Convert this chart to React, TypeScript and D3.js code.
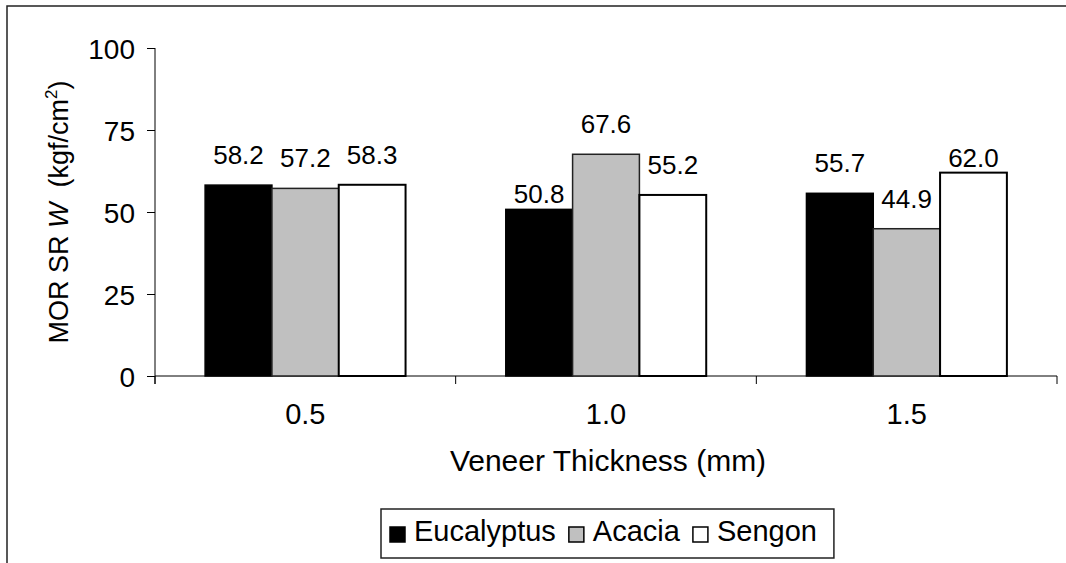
import * as d3 from "d3";
import { useEffect, useRef } from "react";

const categories = ["0.5", "1.0", "1.5"];
const seriesNames = ["Eucalyptus", "Acacia", "Sengon"];
const eucalyptus = [58.2, 50.8, 55.7];
const acacia = [57.2, 67.6, 44.9];
const sengon = [58.3, 55.2, 62.0];
const yTicks = [0, 25, 50, 75, 100];

const seriesValues = [eucalyptus, acacia, sengon];
const fills = ["#000000", "#c0c0c0", "#ffffff"];
const strokes = ["#000000", "#222222", "#000000"];
// labels that were dragged down next to their bar in the original
const nudged = new Set(["1.0|Eucalyptus", "1.5|Sengon"]);

const W = 1066;
const H = 563;
const FONT = "'Liberation Sans', Arial, Helvetica, sans-serif";

export default function App() {
  const svgRef = useRef<SVGSVGElement>(null);

  useEffect(() => {
    document.body.style.margin = "0";
    if (!svgRef.current) return;
    const svg = d3.select(svgRef.current);
    svg.selectAll("*").remove();

    const plot = { left: 155, right: 1057, top: 48, bottom: 376 };

    // outer chart border: only its top and left edges fall inside the image
    svg
      .append("path")
      .attr("d", `M7,${H + 5}V6H${W + 5}`)
      .attr("fill", "none")
      .attr("stroke", "#222")
      .attr("stroke-width", 1.5);

    const x0 = d3.scaleBand().domain(categories).range([plot.left, plot.right]).padding(0);
    const x1 = d3
      .scaleBand()
      .domain(seriesNames)
      .range([0, x0.bandwidth()])
      .paddingInner(0)
      .paddingOuter(0.75);
    const y = d3.scaleLinear().domain([0, 100]).range([plot.bottom, plot.top]);

    // y axis
    const yAxis = svg
      .append("g")
      .attr("transform", `translate(${plot.left},0)`)
      .call(d3.axisLeft(y).tickValues(yTicks).tickSize(8).tickPadding(12).tickFormat(d3.format("d")));
    yAxis.select(".domain").attr("stroke", "#000").attr("d", `M0,${plot.top}V${plot.bottom + 8}`);
    yAxis.selectAll(".tick line").attr("stroke", "#000");
    yAxis
      .selectAll(".tick text")
      .attr("fill", "#000")
      .attr("font-family", FONT)
      .attr("font-size", 28)
      .attr("dy", "0.36em");

    // x axis with ticks between categories
    const xAxis = svg.append("g").attr("transform", `translate(0,${plot.bottom})`);
    xAxis
      .append("line")
      .attr("x1", plot.left)
      .attr("x2", plot.right)
      .attr("stroke", "#000");
    const edges = categories.map((c) => x0(c) as number).concat([plot.right]);
    xAxis
      .selectAll("line.sep")
      .data(edges)
      .enter()
      .append("line")
      .attr("class", "sep")
      .attr("x1", (d) => d)
      .attr("x2", (d) => d)
      .attr("y1", 0)
      .attr("y2", 8)
      .attr("stroke", "#000");
    xAxis
      .selectAll("text.cat")
      .data(categories)
      .enter()
      .append("text")
      .attr("class", "cat")
      .attr("x", (d) => (x0(d) as number) + x0.bandwidth() / 2)
      .attr("y", 48)
      .attr("text-anchor", "middle")
      .attr("font-family", FONT)
      .attr("font-size", 29)
      .text((d) => d);

    // bars
    const groups = svg
      .selectAll(".grp")
      .data(categories)
      .enter()
      .append("g")
      .attr("class", "grp")
      .attr("transform", (d) => `translate(${x0(d)},0)`);

    seriesNames.forEach((s, si) => {
      groups
        .append("rect")
        .attr("x", x1(s) as number)
        .attr("width", x1.bandwidth())
        .attr("y", (_, i) => y(seriesValues[si][i]))
        .attr("height", (_, i) => plot.bottom - y(seriesValues[si][i]))
        .attr("fill", fills[si])
        .attr("stroke", strokes[si])
        .attr("stroke-width", si === 2 ? 2 : 1.5);

      groups
        .append("text")
        .attr("x", (x1(s) as number) + x1.bandwidth() / 2)
        .attr("y", (c, i) => y(seriesValues[si][i]) - (nudged.has(`${c}|${s}`) ? 6 : 21))
        .attr("text-anchor", "middle")
        .attr("font-family", FONT)
        .attr("font-size", 26)
        .text((_, i) => seriesValues[si][i].toFixed(1));
    });

    // axis titles
    svg
      .append("text")
      .attr("x", (plot.left + plot.right) / 2 + 2)
      .attr("y", 471)
      .attr("text-anchor", "middle")
      .attr("font-family", FONT)
      .attr("font-size", 30)
      .text("Veneer Thickness (mm)");

    const yt = svg
      .append("text")
      .attr("transform", "translate(68,212) rotate(-90)")
      .attr("text-anchor", "middle")
      .attr("font-family", FONT)
      .attr("font-size", 27);
    yt.append("tspan").text("MOR SR ");
    yt.append("tspan").attr("font-style", "italic").text("W");
    yt.append("tspan").text("\u00a0\u00a0(kgf/cm");
    yt.append("tspan").attr("font-size", 17).attr("dy", -11).text("2");
    yt.append("tspan").attr("dy", 11).text(")");

    // legend
    const lg = svg.append("g");
    const box = lg
      .append("rect")
      .attr("x", 381)
      .attr("y", 509)
      .attr("height", 49)
      .attr("fill", "#fff")
      .attr("stroke", "#222")
      .attr("stroke-width", 1.5);
    let cx = 390;
    seriesNames.forEach((s, si) => {
      lg.append("rect")
        .attr("x", cx)
        .attr("y", 527)
        .attr("width", 15)
        .attr("height", 15)
        .attr("fill", fills[si])
        .attr("stroke", "#000")
        .attr("stroke-width", 1.5);
      const t = lg
        .append("text")
        .attr("x", cx + 24)
        .attr("y", 541)
        .attr("font-family", FONT)
        .attr("font-size", 29)
        .text(s);
      const len = (t.node() as SVGTextElement).getComputedTextLength();
      cx = cx + 24 + len + 13;
    });
    box.attr("width", cx - 13 + 17 - 381);
  }, []);

  return <svg ref={svgRef} width={W} height={H} style={{ display: "block", background: "#fff" }} />;
}
